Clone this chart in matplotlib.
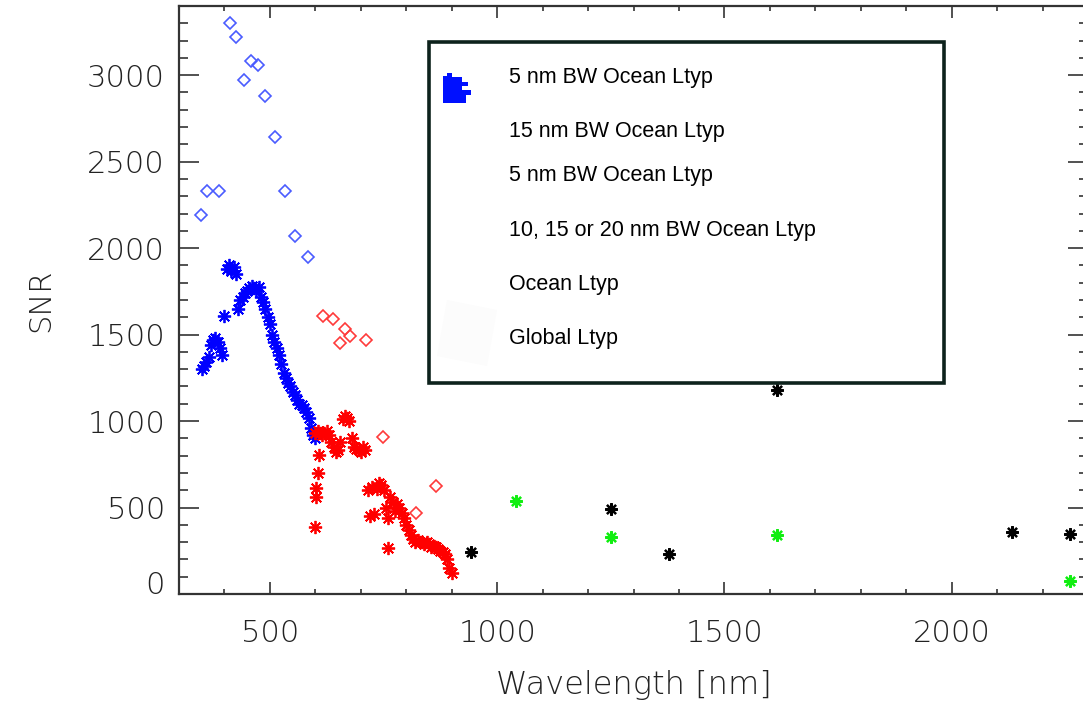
import matplotlib
matplotlib.use("Agg")
import matplotlib.pyplot as plt
from matplotlib.patches import Rectangle, Polygon
from matplotlib.ticker import MultipleLocator
from matplotlib.transforms import ScaledTranslation

# hyperspectral 5 nm band, blue part
blue_star_x = [350, 355, 360, 365, 370, 375, 380, 385, 390, 395,
               400, 405, 410, 415, 420, 425, 430, 435, 440, 445,
               450, 455, 460, 465, 470, 475, 480, 485, 490, 495,
               500, 505, 510, 515, 520, 525, 530, 535, 540, 545,
               550, 555, 560, 565, 570, 575, 580, 585, 590, 595, 600]
blue_star_y = [1300, 1320, 1340, 1370, 1440, 1470, 1480, 1460, 1420, 1380,
               1610, 1880, 1900, 1870, 1890, 1850, 1650, 1700, 1720, 1740,
               1750, 1770, 1780, 1770, 1760, 1775, 1720, 1690, 1650, 1600,
               1560, 1500, 1460, 1420, 1380, 1330, 1280, 1250, 1220, 1200,
               1170, 1150, 1120, 1100, 1090, 1075, 1050, 1020, 960, 920, 900]

# red part (dense trace plus a few scattered points)
red_star_x = [600, 605, 610, 615, 620, 625, 630, 635, 640, 645,
              650, 655, 660, 665, 670, 675, 680, 685, 690, 695,
              700, 705, 710, 715, 720, 725, 730, 735, 740, 745,
              750, 755, 760, 765, 770, 775, 780, 785, 790, 795,
              800, 805, 810, 815, 820, 825, 830, 835, 840, 845,
              850, 855, 860, 865, 870, 875, 880, 885, 890, 895, 900,
              599, 601, 601, 606, 609, 760]
red_star_y = [930, 940, 930, 920, 930, 940, 920, 880, 850, 820,
              830, 880, 1010, 1030, 1020, 1000, 900, 850, 840, 830,
              820, 850, 830, 600, 450, 620, 460, 610, 640, 630,
              600, 500, 440, 560, 530, 480, 520, 500, 470, 440,
              400, 370, 340, 320, 300, 310, 300, 300, 290, 300,
              290, 270, 280, 270, 260, 250, 240, 230, 200, 150, 120,
              390, 563, 611, 698, 804, 264]

blue_dia_x = [349, 361, 388, 412, 425, 443, 458, 474, 489, 511, 534, 556, 584]
blue_dia_y = [2190, 2330, 2330, 3300, 3220, 2970, 3080, 3060, 2880, 2640, 2330, 2070, 1950]

red_dia_x = [617, 639, 655, 666, 677, 712, 749, 821, 866]
red_dia_y = [1610, 1590, 1450, 1530, 1490, 1470, 905, 470, 625]

green_x = [1041, 1250, 1616, 2261]
green_y = [540, 330, 340, 75]

black_x = [942, 1250, 1378, 1616, 2133, 2261]
black_y = [245, 493, 230, 1180, 360, 347]

legend_labels = ["5 nm BW Ocean Ltyp", "15 nm BW Ocean Ltyp", "5 nm BW Ocean Ltyp",
                 "10, 15 or 20 nm BW Ocean Ltyp", "Ocean Ltyp", "Global Ltyp"]
legend_rows_px = [78, 132, 176, 230, 285, 339]

W, H = 1083, 701
fig = plt.figure(figsize=(W / 100, H / 100), dpi=100)
ax = fig.add_axes([179 / W, (H - 594) / H, (1088 - 179) / W, (594 - 6) / H])

star = (8, 2, 0)
ax.plot(blue_star_x, blue_star_y, ls="none", marker=star, ms=9.5, mew=1.3, color="#0000ff")
ax.plot(red_star_x, red_star_y, ls="none", marker=star, ms=9.5, mew=1.3, color="#ff0000")
ax.plot(blue_dia_x, blue_dia_y, ls="none", marker="D", ms=6, mew=1.2,
        mfc="none", mec="#4a5cff")
ax.plot(red_dia_x, red_dia_y, ls="none", marker="D", ms=6, mew=1.2,
        mfc="none", mec="#ff3a3a")
ax.plot(green_x, green_y, ls="none", marker=star, ms=9, mew=1.6, color="#11ee11")
ax.plot(black_x, black_y, ls="none", marker=star, ms=9, mew=1.6, color="black")

ax.set_xlim(300, 2300)
ax.set_ylim(0, 3400)
ax.xaxis.set_major_locator(MultipleLocator(500))
ax.xaxis.set_minor_locator(MultipleLocator(100))
ax.yaxis.set_major_locator(MultipleLocator(500))
ax.yaxis.set_minor_locator(MultipleLocator(100))

axcol = "#333333"
for s in ax.spines.values():
    s.set_color(axcol)
    s.set_linewidth(1.6)
ax.tick_params(axis="both", which="both", direction="in", top=True, right=True,
               color=axcol, width=1.2, labelcolor="#222222", labelsize=22)
ax.tick_params(axis="x", which="major", length=8.6, pad=18)
ax.tick_params(axis="x", which="minor", length=3.6)
ax.tick_params(axis="y", which="major", length=14.4, pad=10)
ax.tick_params(axis="y", which="minor", length=6.5)
for lbl in ax.get_xticklabels() + ax.get_yticklabels():
    lbl.set_fontweight("light")

ax.set_xlabel("Wavelength [nm]", fontsize=23, color="#222222", fontweight="light", labelpad=16)
ax.set_ylabel("SNR", fontsize=22, color="#222222", fontweight="light", labelpad=23)

# legend box drawn in figure pixels
def fx(px):
    return px / W

def fy(py):
    return (H - py) / H

box = Rectangle((fx(429), fy(383)), fx(944) - fx(429), fy(42) - fy(383),
                transform=fig.transFigure, facecolor="white", edgecolor="#0d221c",
                linewidth=2.6, zorder=5)
fig.patches.append(box)
faint = Polygon([(fx(447), fy(300)), (fx(497), fy(310)), (fx(487), fy(366)), (fx(437), fy(356))],
                closed=True, transform=fig.transFigure, facecolor="#fcfcfc",
                edgecolor="none", zorder=6)
fig.patches.append(faint)
blob = Polygon([(fx(443), fy(103)), (fx(443), fy(76)), (fx(447), fy(76)), (fx(447), fy(73)),
                (fx(452), fy(73)), (fx(452), fy(77)), (fx(462), fy(77)), (fx(462), fy(82)),
                (fx(468), fy(82)), (fx(468), fy(86)), (fx(462), fy(86)), (fx(462), fy(90)),
                (fx(471), fy(90)), (fx(471), fy(95)), (fx(466), fy(95)), (fx(466), fy(103))],
               closed=True, transform=fig.transFigure, facecolor="#0010ff",
               edgecolor="none", zorder=6)
fig.patches.append(blob)

for lab, py in zip(legend_labels, legend_rows_px):
    fig.text(fx(509), fy(py), lab, fontsize=15.5, family="Liberation Sans",
             ha="left", va="center", color="black", zorder=7)

# the "0" label sits a bit above its tick in the original
fig.canvas.draw()
for tick in ax.yaxis.get_major_ticks():
    if tick.get_loc() == 0:
        tick.label1.set_transform(tick.label1.get_transform()
                                  + ScaledTranslation(0, 11 / 100, fig.dpi_scale_trans))

fig.savefig("out.png", dpi=100)
